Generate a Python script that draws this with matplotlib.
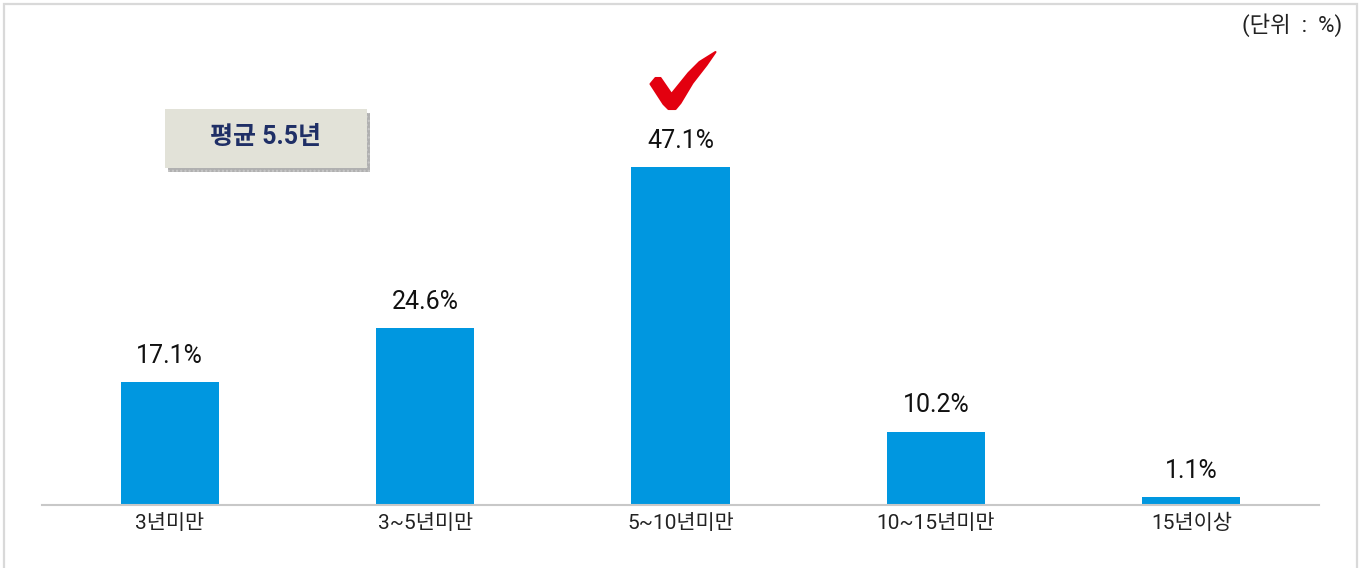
import matplotlib
matplotlib.use('Agg')
import matplotlib.pyplot as plt
from matplotlib.patches import Polygon, Rectangle
from matplotlib import transforms

plt.rcParams['font.family'] = ['Roboto', 'Noto Sans CJK KR', 'DejaVu Sans']

categories = ['3년미만', '3~5년미만', '5~10년미만', '10~15년미만', '15년이상']
shares = [17.1, 24.6, 47.1, 10.2, 1.1]
avg_label = '평균 5.5년'
unit_label = '(단위  :  %)'

W, H = 1364, 568
fig = plt.figure(figsize=(W / 100, H / 100), dpi=100)
ax = fig.add_axes([42 / W, 63 / H, 1277 / W, 465 / H])

x = list(range(len(categories)))
ax.bar(x, shares, width=0.385, color='#0097E0', zorder=2)
for xi, v in zip(x, shares):
    ax.annotate(f'{v}%', (xi, v), xytext=(0, 14), textcoords='offset points',
                ha='center', va='baseline', fontsize=18, color='#111111')

ax.set_xlim(-0.5, len(categories) - 0.5)
ax.set_ylim(0, 64.8)
ax.set_xticks(x)
ax.set_xticklabels(categories, fontsize=15, color='#222222')
ax.tick_params(axis='x', length=0, pad=6.5)
ax.set_yticks([])
for s in ['top', 'right', 'left']:
    ax.spines[s].set_visible(False)
ax.spines['bottom'].set_color('#C8C8C8')
ax.spines['bottom'].set_linewidth(1.5)

# red check mark above the largest bar
top = shares.index(max(shares))
pts = [(-30, 83), (-25, 89), (-20, 89), (-9, 73), (8, 94), (19, 105), (35, 115),
       (26, 102), (12, 84), (0, 64), (-5, 58), (-12, 58), (-17, 63)]
pts = [(px * 72 / 100, py * 72 / 100) for px, py in pts]
check_tr = (transforms.Affine2D().scale(fig.dpi / 72)
            + transforms.ScaledTranslation(top, shares[top], ax.transData))
ax.add_patch(Polygon(pts, closed=True, facecolor='#E3000F', edgecolor='#E3000F',
                     lw=1.5, joinstyle='round', transform=check_tr, clip_on=False, zorder=5))

# average box with dotted shadow
ftr = transforms.Affine2D().scale(1 / W, 1 / H) + fig.transFigure
bx, by, bw, bh = 165, H - 168, 202, 59
fig.patches.append(Rectangle((bx + 3, by - 4), bw, bh, facecolor='#B0B0B0',
                             edgecolor='#C8C8C8', hatch='....', lw=0, transform=ftr, zorder=1))
fig.patches.append(Rectangle((bx, by), bw, bh, facecolor='#E2E2D8', edgecolor='none',
                             transform=ftr, zorder=2))
fig.text((bx + bw / 2) / W, (by + bh / 2 + 1) / H, avg_label, ha='center', va='center',
         fontsize=18, fontweight='bold', color='#1F2F66', zorder=3)

fig.text(1342 / W, (H - 25) / H, unit_label, ha='right', va='center',
         fontsize=16, color='#222222')

# outer frame
fig.patches.append(Rectangle((4, -10), 1353, H - 4 + 10, facecolor='none',
                             edgecolor='#D9D9D9', lw=1.6, transform=ftr, zorder=0))

fig.savefig('out.png', dpi=100)
